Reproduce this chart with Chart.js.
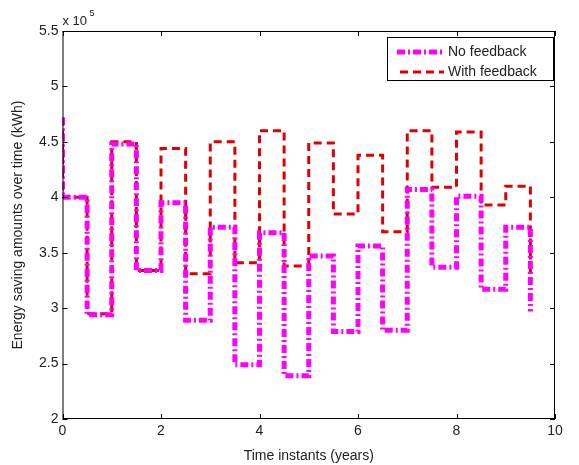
<!DOCTYPE html>
<html>
<head>
<meta charset="utf-8">
<script src="https://cdn.jsdelivr.net/npm/chart.js@4"></script>
<style>
  html, body { margin: 0; padding: 0; background: #fff; }
</style>
</head>
<body>
<canvas id="mainChart" width="579" height="465"></canvas>
<script>
// Time instants (years) - first instant repeated for the initial drop
const times = [0, 0, 0.5, 1, 1.5, 2, 2.5, 3, 3.5, 4, 4.5, 5, 5.5, 6, 6.5, 7, 7.5, 8, 8.5, 9, 9.5];

// Energy saving amounts (kWh)
const noFeedback = [472000, 400000, 294000, 448000, 334000, 395000, 289000, 373000, 249000, 368000, 239000,
  347000, 279000, 356000, 280000, 407000, 337000, 401000, 317000, 373000, 297000];
const withFeedback = [472000, 400000, 295000, 450000, 334000, 444000, 331000, 450000, 341000, 460000, 338000,
  449000, 385000, 438000, 369000, 460000, 409000, 459000, 393000, 410000, 330000];

const xTicks = [0, 2, 4, 6, 8, 10];
const yTicks = [200000, 250000, 300000, 350000, 400000, 450000, 500000, 550000];

const FONT = "'Liberation Sans', Arial, sans-serif";

function points(vals) {
  return times.map((t, i) => ({ x: t, y: vals[i] }));
}

// box, inside ticks, exponent label and legend drawn MATLAB-style
const matlabAxes = {
  id: "matlabAxes",
  afterDraw(chart) {
    const ctx = chart.ctx;
    const a = chart.chartArea;
    const xs = chart.scales.x, ys = chart.scales.y;
    ctx.save();
    ctx.strokeStyle = "#000";
    ctx.lineWidth = 1;
    ctx.setLineDash([]);
    ctx.strokeRect(a.left + 0.5, a.top + 0.5, a.right - a.left - 1, a.bottom - a.top - 1);
    ctx.beginPath();
    xTicks.forEach(v => {
      const px = Math.round(xs.getPixelForValue(v)) + 0.5;
      ctx.moveTo(px, a.bottom); ctx.lineTo(px, a.bottom - 5);
      ctx.moveTo(px, a.top); ctx.lineTo(px, a.top + 5);
    });
    yTicks.forEach(v => {
      const py = Math.round(ys.getPixelForValue(v)) + 0.5;
      ctx.moveTo(a.left, py); ctx.lineTo(a.left + 5, py);
      ctx.moveTo(a.right, py); ctx.lineTo(a.right - 5, py);
    });
    ctx.stroke();

    // x 10^5
    ctx.fillStyle = "#222";
    ctx.textBaseline = "alphabetic";
    ctx.textAlign = "left";
    ctx.font = "13px " + FONT;
    ctx.fillText("x 10", a.left, 25);
    ctx.font = "9px " + FONT;
    ctx.fillText("5", a.left + 27, 16);

    // legend
    const lx = 387, ly = 37, lw = 166, lh = 43;
    ctx.fillStyle = "#fff";
    ctx.fillRect(lx, ly, lw, lh);
    ctx.strokeStyle = "#000";
    ctx.strokeRect(lx + 0.5, ly + 0.5, lw, lh);
    chart.data.datasets.forEach((ds, i) => {
      const yy = ly + 15 + i * 20;
      ctx.strokeStyle = ds.borderColor;
      ctx.lineWidth = ds.borderWidth;
      ctx.setLineDash(ds.borderDash);
      ctx.beginPath();
      ctx.moveTo(lx + 10 + i * 3, yy);
      ctx.lineTo(lx + 57, yy);
      ctx.stroke();
      ctx.setLineDash([]);
      ctx.fillStyle = "#222";
      ctx.font = "14px " + FONT;
      ctx.textBaseline = "middle";
      ctx.fillText(ds.label, lx + 61, yy);
    });
    ctx.restore();
  }
};

new Chart(document.getElementById("mainChart"), {
  type: "line",
  data: {
    datasets: [
      {
        label: "No feedback",
        data: points(noFeedback),
        stepped: true,
        borderColor: "#ff00ff",
        borderWidth: 5,
        borderDash: [8, 3, 2, 3],
        pointRadius: 0,
        fill: false
      },
      {
        label: "With feedback",
        data: points(withFeedback),
        stepped: true,
        borderColor: "#e00000",
        borderWidth: 3,
        borderDash: [8, 5],
        pointRadius: 0,
        fill: false
      }
    ]
  },
  plugins: [matlabAxes],
  options: {
    responsive: false,
    animation: false,
    devicePixelRatio: 1,
    layout: { padding: { top: 31, right: 24, left: 0, bottom: 0 } },
    plugins: { legend: { display: false }, tooltip: { enabled: false } },
    scales: {
      x: {
        type: "linear",
        min: 0,
        max: 10,
        afterFit(s) { s.height = 46; },
        afterBuildTicks(s) { s.ticks = xTicks.map(v => ({ value: v })); },
        grid: { drawOnChartArea: false, drawTicks: false },
        border: { display: false },
        ticks: { color: "#222", font: { family: FONT, size: 14 }, padding: 4, autoSkip: false, maxRotation: 0 },
        title: {
          display: true,
          text: "Time instants (years)",
          color: "#222",
          font: { family: FONT, size: 14 },
          padding: { top: 0, bottom: 0 }
        }
      },
      y: {
        min: 200000,
        max: 550000,
        afterFit(s) { s.width = 62.5; },
        afterBuildTicks(s) { s.ticks = yTicks.map(v => ({ value: v })); },
        grid: { drawOnChartArea: false, drawTicks: false },
        border: { display: false },
        ticks: {
          color: "#222",
          font: { family: FONT, size: 14 },
          padding: 4,
          autoSkip: false,
          callback: v => String(v / 100000)
        },
        title: {
          display: true,
          text: "Energy saving amounts over time (kWh)",
          color: "#222",
          font: { family: FONT, size: 14 },
          padding: { top: 10, bottom: 0 }
        }
      }
    }
  }
});
</script>
</body>
</html>
